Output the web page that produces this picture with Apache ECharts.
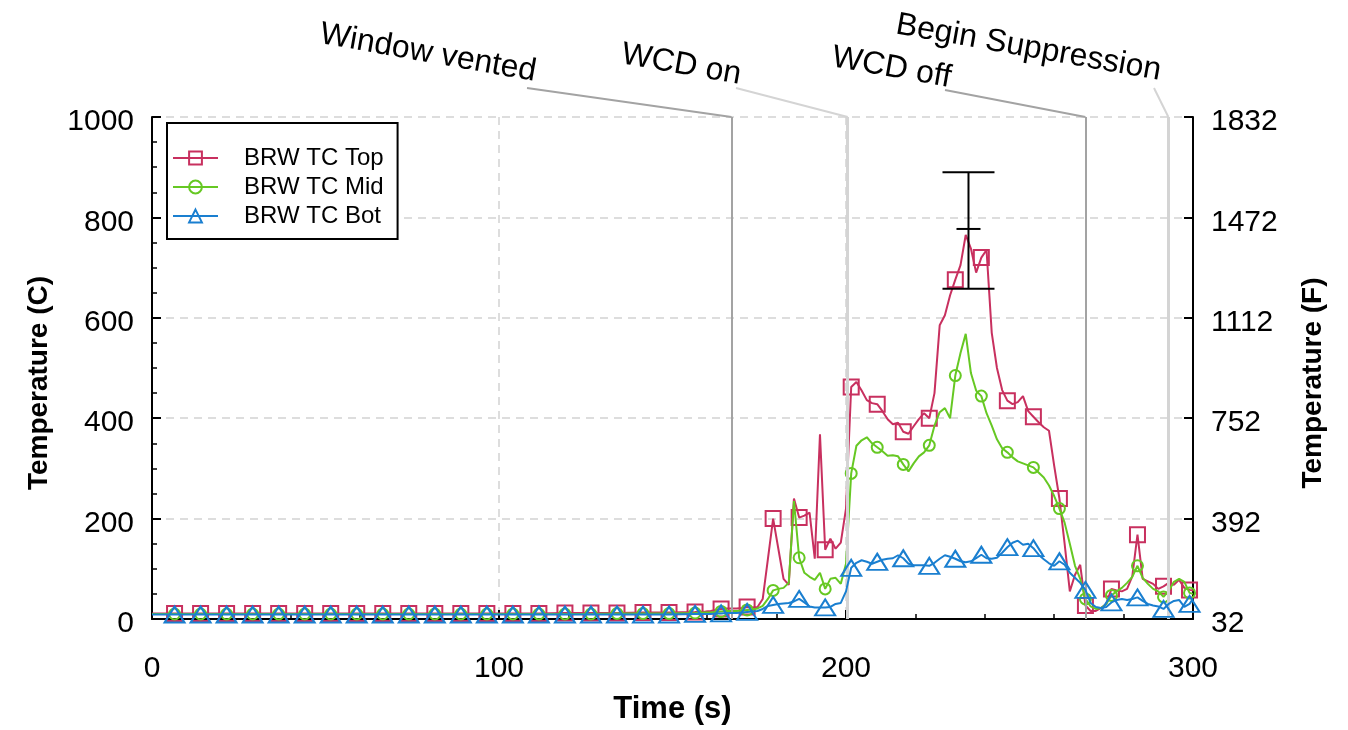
<!DOCTYPE html>
<html>
<head>
<meta charset="utf-8">
<script src="https://cdn.jsdelivr.net/npm/echarts@6/dist/echarts.min.js"></script>
<style>
html,body{margin:0;padding:0;background:#fff;}
#chart{width:1348px;height:730px;}
</style>
</head>
<body>
<div id="chart"></div>
<script>
// ---------------- DATA ----------------
const time = [
  0, 6.5, 14, 21.5, 29, 36.5, 44, 51.5, 59, 66.5, 74, 81.5, 89, 96.5, 104, 111.5, 119, 126.5, 134, 141.5, 149, 156.5,
  159.5, 161, 162.5, 164, 165.5, 167, 168.5, 170, 171.5, 173, 174.5, 176, 177.5, 179, 180.5, 182, 183.5, 185, 186.5, 188,
  189.5, 191, 192.5, 194, 195.5, 197, 198.5, 200, 201.5, 203, 204.5, 206, 207.5, 209, 210.5, 212, 213.5, 215, 216.5, 218,
  219.5, 221, 222.5, 224, 225.5, 227, 228.5, 230, 231.5, 233, 234.5, 236, 237.5, 239, 240.5, 242, 243.5, 245, 246.5, 248,
  249.5, 251, 252.5, 254, 255.5, 257, 258.5, 260, 261.5, 263, 264.5, 266, 267.5, 269, 270.5, 272, 273.5, 275, 276.5, 278,
  279.5, 281, 282.5, 284, 285.5, 287, 288.5, 290, 291.5, 293, 294.5, 296, 297.5, 299, 300
];
const tempTop = [
  11, 11, 11, 11, 11, 11, 11, 11, 11, 11, 11, 11, 11, 11, 11, 11, 12, 12, 12, 13, 13, 14,
  15, 16, 18, 20, 21, 21, 21, 22, 24, 23, 24, 40, 120, 200, 140, 80, 68, 240, 202, 206,
  212, 120, 368, 138, 160, 140, 152, 220, 462, 472, 455, 436, 430, 428, 414, 398, 388, 391, 373, 369,
  384, 398, 410, 400, 450, 585, 605, 645, 676, 705, 765, 738, 690, 720, 735, 570, 500, 456, 435, 428,
  432, 444, 414, 403, 392, 382, 375, 305, 240, 150, 55, 88, 108, 27, 16, 16, 22, 30, 60, 57,
  55, 60, 85, 168, 80, 75, 70, 60, 65, 72, 68, 78, 62, 58, 57
];
const tempMid = [
  10, 10, 10, 10, 10, 10, 10, 10, 10, 10, 10, 10, 10, 10, 10, 10, 10, 10, 11, 11, 11, 12,
  13, 13, 14, 15, 16, 16, 16, 17, 18, 19, 21, 26, 40, 57, 60, 62, 72, 235, 122, 92,
  84, 78, 92, 60, 80, 82, 70, 110, 290, 345, 356, 362, 350, 342, 334, 325, 326, 324, 308, 294,
  310, 324, 332, 346, 385, 412, 420, 400, 485, 530, 568, 490, 455, 444, 410, 385, 358, 340, 332, 322,
  314, 310, 306, 302, 292, 282, 266, 245, 220, 192, 150, 106, 80, 40, 25, 20, 22, 30, 47, 55,
  62, 72, 84, 106, 82, 70, 60, 55, 44, 56, 74, 80, 74, 52, 50
];
const tempBot = [
  9, 9, 9, 9, 9, 9, 9, 9, 9, 9, 9, 9, 9, 9, 9, 9, 9, 9, 9, 9, 9, 10,
  10, 10, 11, 11, 12, 12, 12, 13, 14, 15, 16, 20, 26, 28, 30, 31, 32, 35, 40, 33,
  25, 23, 23, 23, 24, 30, 32, 55, 102, 112, 117, 114, 110, 114, 118, 120, 121, 127, 121, 110,
  107, 107, 107, 106, 112, 120, 127, 124, 120, 115, 113, 115, 121, 128, 121, 120, 122, 132, 143, 152,
  156, 148, 150, 141, 128, 119, 111, 106, 115, 108, 92, 82, 72, 58, 32, 24, 22, 24, 33, 38,
  40, 38, 40, 43, 36, 30, 27, 25, 20, 30, 36, 38, 24, 30, 40
];
const seriesNames = ['BRW TC Top', 'BRW TC Mid', 'BRW TC Bot'];
const leftTickLabels = ['0', '200', '400', '600', '800', '1000'];
const rightTickLabels = ['32', '392', '752', '1112', '1472', '1832'];
const eventNames = ['Window vented', 'WCD on', 'WCD off', 'Begin Suppression'];
const eventTimes = [167, 200.5, 269, 292.9];
// error bar at the peak: [time, low, mid, high]
const errorBar = [[235.3, 658, 777, 890]];

// ---------------- STYLE ----------------
const FONT = "'Liberation Sans', Arial, sans-serif";
const colors = ['#c8305f', '#66c823', '#1a7fd0'];
const eventColors = ['#a3a3a3', '#d4d4d4', '#a3a3a3', '#d4d4d4'];
const eventWidths = [2, 3, 2, 3];
const labelAnchor = [[533, 88], [738, 91], [948, 94], [1158, 87]]; // text right-bottom (px)
const leaderStart = [[527, 88], [736, 88], [945, 90], [1154, 88]];

function isMarker(t) {
  if (t < 6.5) return false;
  const k = (t - 6.5) / 7.5;
  return Math.abs(k - Math.round(k)) < 1e-6;
}
function buildData(vals, sym) {
  return time.map((t, i) => ({ value: [t, vals[i]], symbol: isMarker(t) ? sym : 'none' }));
}

const chart = echarts.init(document.getElementById('chart'), null, { renderer: 'canvas' });

const symbols = ['rect', 'circle', 'triangle'];
const symbolSizes = [15, 11, [20, 16]];
const valueArrays = [tempTop, tempMid, tempBot];

const lineSeries = seriesNames.map((name, i) => ({
  name: name,
  type: 'line',
  data: buildData(valueArrays[i], symbols[i]),
  symbol: symbols[i],
  symbolSize: symbolSizes[i],
  showSymbol: true,
  lineStyle: { color: colors[i], width: 2 },
  itemStyle: { color: 'rgba(255,255,255,0)', borderColor: colors[i], borderWidth: 2 },
  emphasis: { disabled: true },
  silent: true,
  z: 3 + i
}));

const yLabelStyle = { fontFamily: FONT, fontSize: 30, color: '#000', margin: 18, verticalAlign: 'top', lineHeight: 10 };
const yNameStyle = { fontFamily: FONT, fontSize: 28, fontWeight: 'bold', color: '#000', padding: [0, 30, 0, 0] };

const option = {
  animation: false,
  backgroundColor: '#fff',
  grid: { left: 152, right: 155, top: 117, bottom: 102, containLabel: false },
  legend: {
    left: 167, top: 123,
    orient: 'vertical',
    backgroundColor: '#fff',
    borderColor: '#000', borderWidth: 2,
    padding: [23, 14, 11, 5],
    itemWidth: 45, itemHeight: 16, itemGap: 5,
    textStyle: { fontFamily: FONT, fontSize: 24, color: '#000', padding: [0, 0, 0, 21] },
    data: seriesNames.map((n, i) => ({
      name: n,
      itemStyle: { color: 'rgba(255,255,255,0)', borderColor: colors[i], borderWidth: 2 },
      lineStyle: { color: colors[i], width: 2 }
    }))
  },
  xAxis: {
    type: 'value', min: 0, max: 300, interval: 100,
    name: 'Time (s)', nameLocation: 'middle', nameGap: 75,
    nameTextStyle: { fontFamily: FONT, fontSize: 31, fontWeight: 'bold', color: '#000' },
    axisLine: { show: true, onZero: false, lineStyle: { color: '#000', width: 2 } },
    axisTick: { show: true, inside: true, length: 9, lineStyle: { color: '#000', width: 2 } },
    minorTick: { show: true, splitNumber: 5, length: 5, lineStyle: { color: '#000', width: 1.5 } },
    axisLabel: { fontFamily: FONT, fontSize: 30, color: '#000', margin: 35 },
    splitLine: { show: true, lineStyle: { color: '#d2d2d2', type: [8, 6], width: 1.5 } }
  },
  yAxis: [
    {
      type: 'value', min: 0, max: 1000, interval: 200, position: 'left',
      name: 'Temperature (C)', nameLocation: 'middle', nameGap: 99, nameRotate: 90,
      nameTextStyle: yNameStyle,
      axisLine: { show: true, lineStyle: { color: '#000', width: 2 } },
      axisTick: { show: true, inside: true, length: 9, lineStyle: { color: '#000', width: 2 } },
      minorTick: { show: true, splitNumber: 4, length: 5, lineStyle: { color: '#000', width: 1.5 } },
      axisLabel: Object.assign({}, yLabelStyle, { formatter: (v) => leftTickLabels[Math.round(v / 200)] }),
      splitLine: { show: true, lineStyle: { color: '#d2d2d2', type: [8, 6], width: 1.5 } }
    },
    {
      type: 'value', min: 0, max: 1000, interval: 200, position: 'right',
      name: 'Temperature (F)', nameLocation: 'middle', nameGap: 106, nameRotate: 90,
      nameTextStyle: yNameStyle,
      axisLine: { show: true, lineStyle: { color: '#000', width: 2 } },
      axisTick: { show: true, inside: true, length: 9, lineStyle: { color: '#000', width: 2 } },
      minorTick: { show: false },
      axisLabel: Object.assign({}, yLabelStyle, { formatter: (v) => rightTickLabels[Math.round(v / 200)] }),
      splitLine: { show: false }
    }
  ],
  series: [
    {
      name: 'events', type: 'line', data: [], silent: true, z: 1,
      markLine: {
        silent: true, symbol: ['none', 'none'], animation: false,
        label: { show: false },
        data: eventTimes.map((t, i) => ({
          xAxis: t,
          lineStyle: { color: eventColors[i], width: eventWidths[i], type: 'solid' }
        }))
      }
    },
    ...lineSeries,
    {
      name: 'error', type: 'custom', silent: true, z: 8,
      data: errorBar,
      encode: { x: 0, y: [1, 2, 3] },
      renderItem: function (params, api) {
        const x = api.value(0);
        const pL = api.coord([x, api.value(1)]);
        const pM = api.coord([x, api.value(2)]);
        const pH = api.coord([x, api.value(3)]);
        const st = { stroke: '#000', lineWidth: 2 };
        return {
          type: 'group',
          children: [
            { type: 'line', shape: { x1: pL[0], y1: pL[1], x2: pH[0], y2: pH[1] }, style: st },
            { type: 'line', shape: { x1: pL[0] - 26, y1: pL[1], x2: pL[0] + 26, y2: pL[1] }, style: st },
            { type: 'line', shape: { x1: pH[0] - 26, y1: pH[1], x2: pH[0] + 26, y2: pH[1] }, style: st },
            { type: 'line', shape: { x1: pM[0] - 12, y1: pM[1], x2: pM[0] + 12, y2: pM[1] }, style: st }
          ]
        };
      }
    }
  ]
};

chart.setOption(option);

// annotation leaders & texts (leader ends at the event's top-of-plot position)
const graphics = [];
eventNames.forEach((name, i) => {
  const p = chart.convertToPixel({ gridIndex: 0 }, [eventTimes[i], 1000]);
  graphics.push({
    type: 'line', silent: true, z: 10,
    shape: { x1: leaderStart[i][0], y1: leaderStart[i][1], x2: p[0], y2: p[1] },
    style: { stroke: eventColors[i], lineWidth: 2 }
  });
  graphics.push({
    type: 'text', silent: true, z: 10,
    x: labelAnchor[i][0], y: labelAnchor[i][1],
    rotation: -0.175,
    style: { text: name, fill: '#000', font: '32px ' + FONT, align: 'right', verticalAlign: 'bottom' }
  });
});
chart.setOption({ graphic: graphics });
</script>
</body>
</html>
